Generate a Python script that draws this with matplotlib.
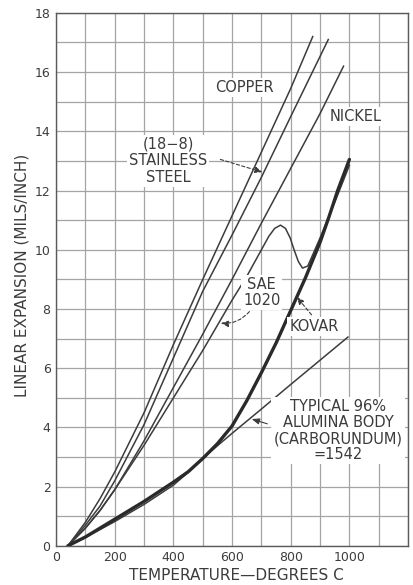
import numpy as np
import matplotlib.pyplot as plt

# temperature (deg C) / linear expansion (mils per inch)
copper_t = [40, 100, 150, 200, 300, 400, 500, 600, 700, 800, 875]
copper_v = [0, 0.8, 1.6, 2.5, 4.5, 6.8, 9.0, 11.15, 13.3, 15.45, 17.2]

steel_t = [40, 100, 150, 200, 300, 400, 500, 600, 700, 800, 928]
steel_v = [0, 0.7, 1.35, 2.2, 4.1, 6.35, 8.6, 10.5, 12.45, 14.5, 17.1]

nickel_t = [40, 100, 150, 200, 300, 400, 500, 600, 700, 800, 900, 980]
nickel_v = [0, 0.6, 1.2, 1.9, 3.55, 5.35, 7.15, 9.0, 10.9, 12.75, 14.6, 16.2]

sae_t = [40, 100, 150, 200, 300, 400, 500, 600, 650, 700, 725, 745, 765,
         782, 798, 812, 826, 840, 858, 878, 900, 950, 1000]
sae_v = [0, 0.6, 1.2, 1.9, 3.4, 5.0, 6.6, 8.3, 9.1, 10.0, 10.45, 10.72, 10.83,
         10.72, 10.4, 9.98, 9.6, 9.38, 9.45, 9.9, 10.4, 11.6, 12.85]

kovar_t = [40, 100, 200, 300, 400, 450, 500, 550, 600, 650, 700, 750, 800,
           850, 900, 930, 960, 1000]
kovar_v = [0, 0.3, 0.9, 1.5, 2.15, 2.5, 2.95, 3.45, 4.05, 4.9, 5.85, 6.85, 7.95,
           9.05, 10.25, 11.1, 12.0, 13.05]

alumina_t = [40, 100, 200, 300, 400, 450, 500, 550, 600, 700, 800, 900, 995]
alumina_v = [0, 0.28, 0.82, 1.4, 2.05, 2.48, 2.95, 3.38, 3.8, 4.62, 5.45, 6.27, 7.05]

x_ticks = [0, 200, 400, 600, 800, 1000, 1200]
x_tick_labels = ['0', '200', '400', '600', '800', '1000', '']
y_ticks = [0, 2, 4, 6, 8, 10, 12, 14, 16, 18]

ink = '#3c3c3c'
plt.rcParams['font.family'] = 'DejaVu Sans'

fig = plt.figure(figsize=(4.13, 5.85), dpi=100)
ax = fig.add_axes([0.136, 0.067, 0.852, 0.911])

for t, v in [(copper_t, copper_v), (steel_t, steel_v), (nickel_t, nickel_v),
             (sae_t, sae_v), (alumina_t, alumina_v)]:
    ax.plot(t, v, color=ink, lw=1.1, zorder=3, solid_joinstyle='round')
ax.plot(kovar_t, kovar_v, color='#2a2a2a', lw=2.4, zorder=4,
        solid_joinstyle='round', solid_capstyle='round')

ax.set_xlim(0, 1200)
ax.set_ylim(0, 18)
ax.set_xticks(x_ticks)
ax.set_xticklabels(x_tick_labels)
ax.set_xticks(range(100, 1200, 200), minor=True)
ax.set_yticks(y_ticks)
ax.set_yticks(range(1, 18, 2), minor=True)
ax.grid(which='both', color='#a4a4a4', lw=0.9, zorder=0)
ax.tick_params(which='both', length=0, labelsize=9, colors=ink, pad=4)
for s in ax.spines.values():
    s.set_color('#5a5a5a')
    s.set_linewidth(1.0)

box = dict(facecolor='white', edgecolor='none', pad=1.5)
txt = dict(fontsize=10.5, color=ink, ha='center', va='center', bbox=box, zorder=5)
ax.text(642, 15.48, 'COPPER', **txt)
ax.text(1022, 14.51, 'NICKEL', **txt)
ax.text(382, 13.0, '(18\u22128)\nSTAINLESS\nSTEEL', linespacing=1.15, **txt)
ax.text(701, 8.55, 'SAE\n1020', linespacing=1.05, **txt)
ax.text(880, 7.4, 'KOVAR', **txt)
ax.text(961, 3.89, 'TYPICAL 96%\nALUMINA BODY\n(CARBORUNDUM)\n=1542',
        linespacing=1.1, **txt)


def pointer(tail, tip, rad=0.0, dashed=True):
    ls = (0, (3, 2)) if dashed else '-'
    ax.annotate('', xy=tip, xytext=tail, zorder=6,
                arrowprops=dict(arrowstyle='-|>,head_length=0.45,head_width=0.18',
                                color=ink, lw=0.8, linestyle=ls,
                                connectionstyle='arc3,rad=%s' % rad,
                                shrinkA=0, shrinkB=0))


pointer((560, 13.05), (704, 12.62))
pointer((659, 7.91), (561, 7.52), rad=-0.25)
pointer((871, 7.8), (820, 8.41))
pointer((720, 4.12), (667, 4.28), dashed=False)

fig.text(22 / 413, 1 - 275 / 585, 'LINEAR EXPANSION (MILS/INCH)', rotation=90,
         ha='center', va='center', fontsize=11, color=ink)
fig.text(236 / 413, 1 - 575 / 585, 'TEMPERATURE\u2014DEGREES C',
         ha='center', va='center', fontsize=11, color=ink)

fig.savefig('out.png', dpi=100, facecolor='white')
